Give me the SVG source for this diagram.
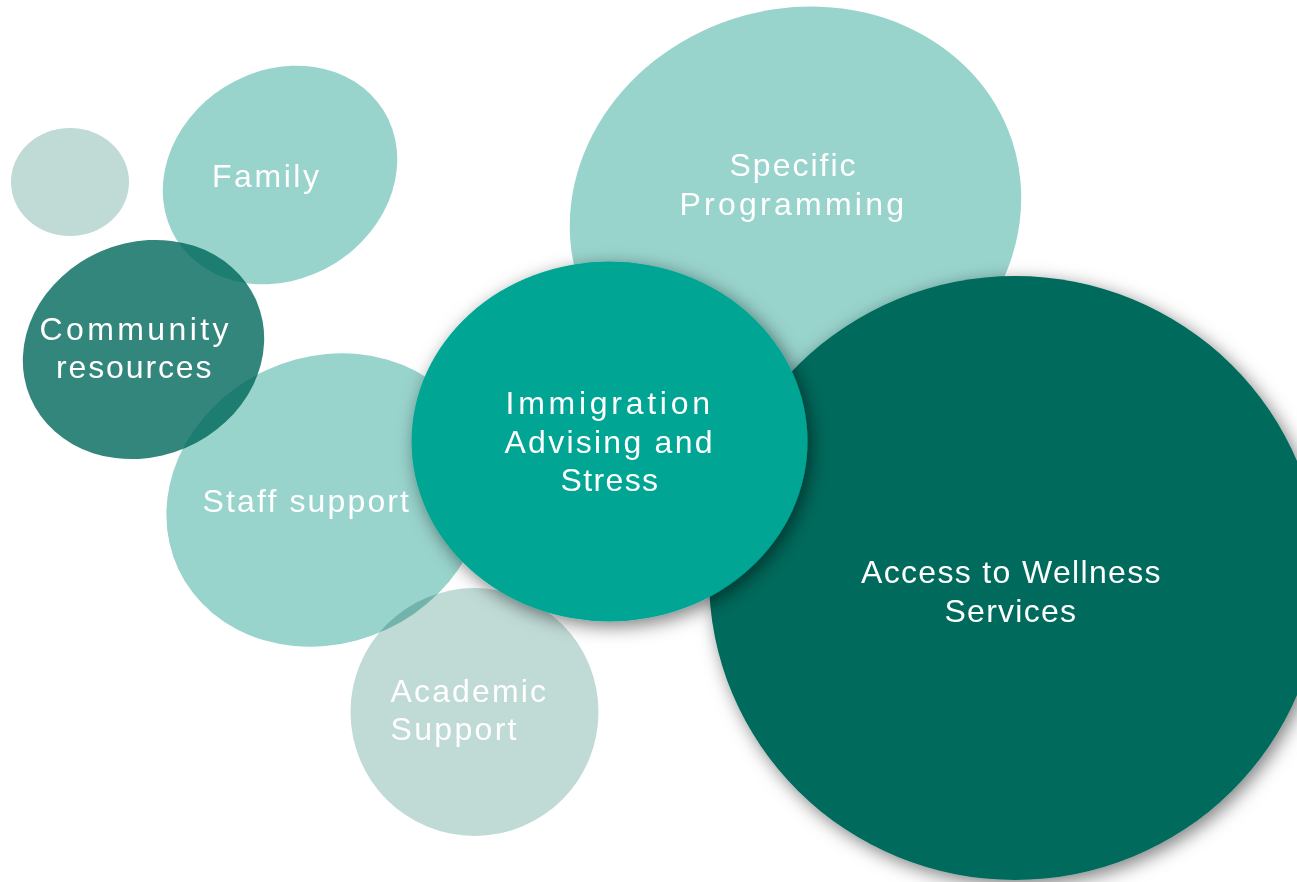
<svg xmlns="http://www.w3.org/2000/svg" width="1297" height="882" viewBox="0 0 1297 882">
  <defs>
    <filter id="shadow" x="-25%" y="-25%" width="150%" height="150%">
      <feDropShadow dx="4" dy="5" stdDeviation="9" flood-color="#000" flood-opacity="0.5"/>
    </filter>
  </defs>
  <style>
    .lbl { font-family: "Liberation Sans", Arial, sans-serif; font-size: 32px; fill: #ffffff; }
    .light { fill: #98d3cc; }
    .pale { fill: #c0dad6; }
    .mid { fill: #00a594; }
    .deep { fill: #006b5c; }
  </style>
  <rect width="1297" height="882" fill="#ffffff"/>

  <!-- small unlabeled bubble -->
  <g id="bubble-small">
    <ellipse class="pale" cx="70" cy="182" rx="59" ry="54"/>
  </g>

  <g id="family">
    <ellipse class="light" cx="280" cy="175" rx="122" ry="104" transform="rotate(-32 280 175)"/>
    <text class="lbl" x="212" y="187" textLength="107" lengthAdjust="spacing">Family</text>
  </g>

  <g id="specific-programming">
    <ellipse class="light" cx="795.5" cy="212" rx="228" ry="203" transform="rotate(-18 795.5 212)"/>
    <text class="lbl" x="729.5" y="176" textLength="126" lengthAdjust="spacing">Specific</text>
    <text class="lbl" x="679.5" y="215" textLength="224.5" lengthAdjust="spacing">Programming</text>
  </g>

  <g id="staff-support">
    <ellipse class="light" cx="326" cy="500" rx="163" ry="143" transform="rotate(-25 326 500)"/>
    <text class="lbl" x="202.5" y="511.5" textLength="206.5" lengthAdjust="spacing">Staff support</text>
  </g>

  <g id="community-resources">
    <ellipse fill="#00685a" fill-opacity="0.8" cx="143.5" cy="349.5" rx="123" ry="107" transform="rotate(-23 143.5 349.5)"/>
    <text class="lbl" x="39.5" y="340" textLength="189" lengthAdjust="spacing">Community</text>
    <text class="lbl" x="56" y="378" textLength="155.5" lengthAdjust="spacing">resources</text>
  </g>

  <g id="academic-support">
    <circle class="pale" cx="474.5" cy="712" r="124" style="mix-blend-mode:multiply"/>
    <text class="lbl" x="390.5" y="701.5" textLength="155.5" lengthAdjust="spacing">Academic</text>
    <text class="lbl" x="390.5" y="739.5" textLength="126" lengthAdjust="spacing">Support</text>
  </g>

  <g id="access-wellness">
    <ellipse class="deep" cx="1015" cy="578" rx="306" ry="302" filter="url(#shadow)"/>
    <text class="lbl" x="861" y="583" textLength="299.5" lengthAdjust="spacing">Access to Wellness</text>
    <text class="lbl" x="944.5" y="622" textLength="131.5" lengthAdjust="spacing">Services</text>
  </g>

  <g id="immigration-advising">
    <ellipse class="mid" cx="609.5" cy="441.5" rx="198" ry="180" filter="url(#shadow)"/>
    <text class="lbl" x="505.5" y="414" textLength="204.5" lengthAdjust="spacing">Immigration</text>
    <text class="lbl" x="504.5" y="452.5" textLength="208" lengthAdjust="spacing">Advising and</text>
    <text class="lbl" x="560.5" y="490.5" textLength="97.5" lengthAdjust="spacing">Stress</text>
  </g>
</svg>
